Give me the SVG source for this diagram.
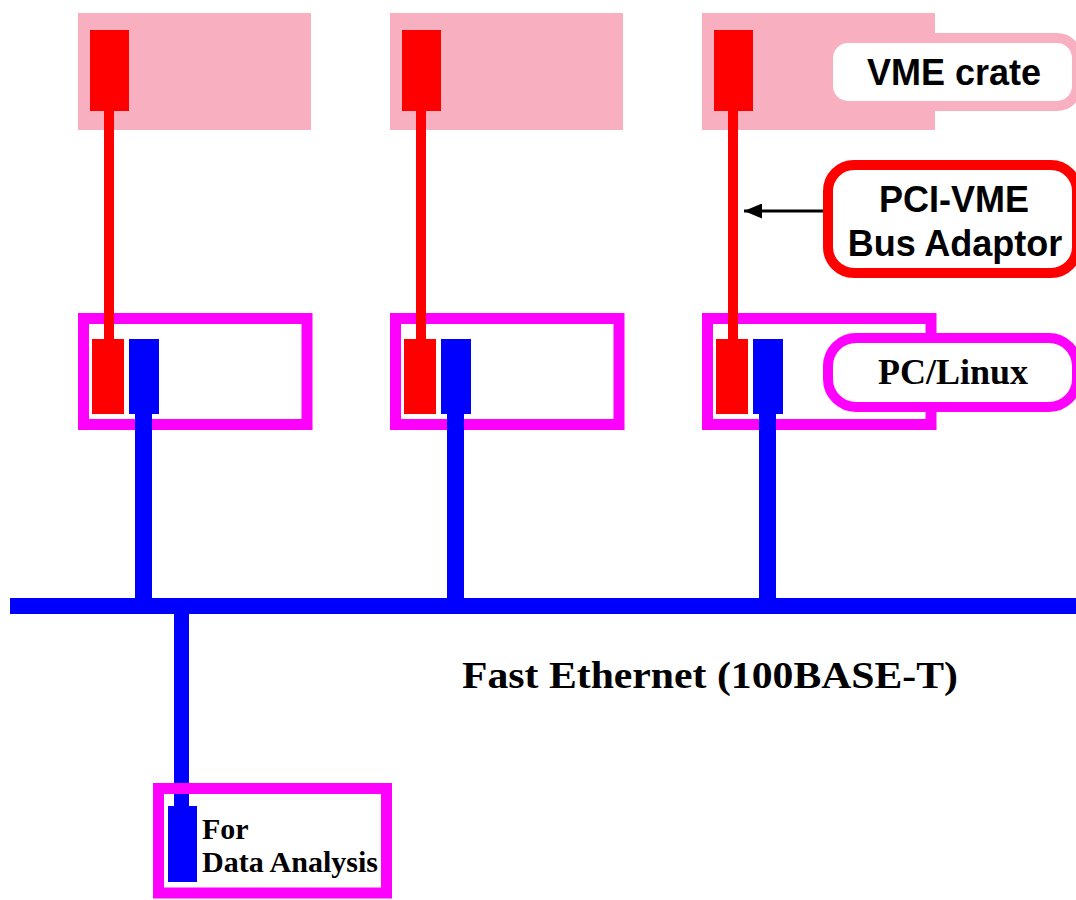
<svg xmlns="http://www.w3.org/2000/svg" width="1076" height="900" viewBox="0 0 1076 900">
<style>
.crate{fill:#F8AFBF}
.red{fill:#FF0000}
.blue{fill:#0000FF}
.pc{fill:none;stroke:#FF00FF;stroke-width:11}
.sans{font-family:"Liberation Sans",Arial,sans-serif;font-weight:bold;font-size:36px;fill:#000;text-anchor:middle}
.serif{font-family:"Liberation Serif","Times New Roman",serif;font-weight:bold;fill:#000}
</style>
<defs>
<marker id="ah" markerWidth="6" markerHeight="5" refX="6" refY="2.5" orient="auto" markerUnits="strokeWidth">
<path d="M0,0 L6,2.5 L0,5 Z" fill="#000"/>
</marker>
</defs>
<rect width="1076" height="900" fill="#fff"/>

<g id="crate1"><rect class="crate" x="78" y="13" width="233" height="117"/><rect class="red" x="90" y="30" width="39" height="81"/></g>
<g id="crate2"><rect class="crate" x="390" y="13" width="233" height="117"/><rect class="red" x="402" y="30" width="39" height="81"/></g>
<g id="crate3"><rect class="crate" x="702" y="13" width="233" height="117"/><rect class="red" x="714" y="30" width="39" height="81"/></g>

<g id="pc1"><rect class="pc" x="83.5" y="318.5" width="223.5" height="106"/><rect class="red" x="92" y="339" width="32" height="75"/><rect class="blue" x="129" y="339" width="30" height="75"/></g>
<g id="pc2"><rect class="pc" x="395.5" y="318.5" width="223.5" height="106"/><rect class="red" x="404" y="339" width="32" height="75"/><rect class="blue" x="441" y="339" width="30" height="75"/></g>
<g id="pc3"><rect class="pc" x="707.5" y="318.5" width="223.5" height="106"/><rect class="red" x="716" y="339" width="32" height="75"/><rect class="blue" x="753" y="339" width="30" height="75"/></g>

<g id="connectors">
<rect class="red" x="104" y="111" width="10" height="228"/>
<rect class="red" x="416" y="111" width="10" height="228"/>
<rect class="red" x="728" y="111" width="10" height="228"/>
<rect class="blue" x="135" y="414" width="17" height="190"/>
<rect class="blue" x="447" y="414" width="17" height="190"/>
<rect class="blue" x="759" y="414" width="17" height="190"/>
<rect class="blue" x="10" y="598" width="1066" height="16"/>
<rect class="blue" x="174" y="606" width="15" height="202"/>
<line x1="823" y1="211" x2="744" y2="211" stroke="#000" stroke-width="3" marker-end="url(#ah)"/>
</g>

<g id="analysis"><rect class="pc" x="158.5" y="788.5" width="228" height="104.5"/><rect class="blue" x="168" y="806" width="29" height="76"/>
<text class="serif" x="202" y="839" font-size="30">For</text>
<text class="serif" x="202" y="872" font-size="30" textLength="176" lengthAdjust="spacingAndGlyphs">Data Analysis</text></g>

<g id="label-vme"><rect x="828" y="38" width="249" height="68" rx="20" fill="#fff" stroke="#F8AFBF" stroke-width="10"/><text class="sans" x="954" y="85">VME crate</text></g>
<g id="label-pci"><rect x="828" y="165" width="249" height="108" rx="26" fill="#fff" stroke="#FF0000" stroke-width="10"/><text class="sans" x="954" y="212">PCI-VME</text><text class="sans" x="955" y="256">Bus Adaptor</text></g>
<g id="label-pc"><rect x="828" y="338" width="249" height="69" rx="28" fill="#fff" stroke="#FF00FF" stroke-width="10"/><text class="serif" x="953" y="384" font-size="36" text-anchor="middle">PC/Linux</text></g>

<text class="serif" x="462" y="688" font-size="38" textLength="496" lengthAdjust="spacingAndGlyphs">Fast Ethernet (100BASE-T)</text>
</svg>
